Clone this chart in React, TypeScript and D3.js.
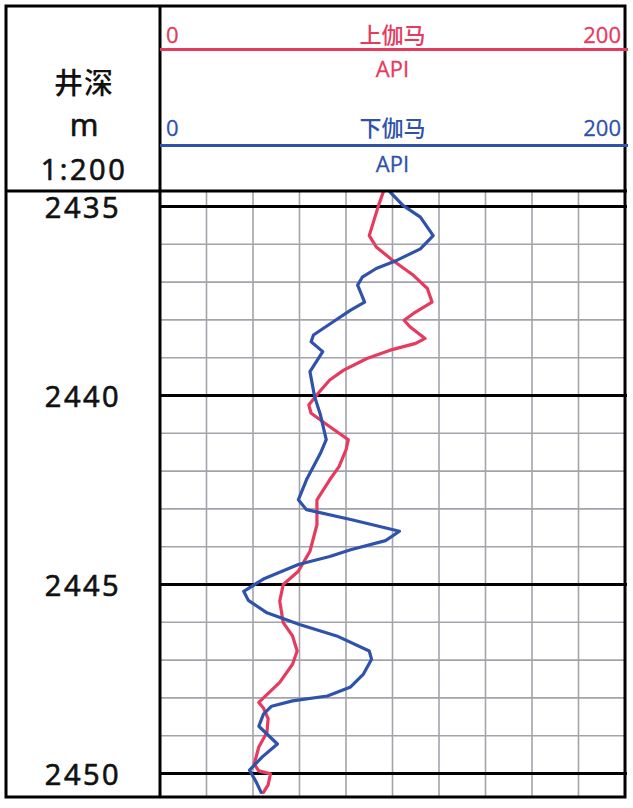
import React, { useEffect, useRef } from 'react';
import * as d3 from 'd3';

// depth scale labels (m)
const depthTicks = [2435, 2440, 2445, 2450];

// 上伽马 (API) by depth
const upperDepth = [
  2434.62, 2434.97, 2435.77, 2436.07, 2436.42, 2436.82, 2437.17, 2437.53, 2437.83, 2438.01,
  2438.18, 2438.49, 2438.62, 2438.8, 2439.02, 2439.33, 2439.59, 2439.94, 2440.25, 2440.47,
  2440.78, 2441.17, 2441.44, 2441.88, 2442.23, 2442.76, 2443.42, 2444.12, 2444.65, 2445.0,
  2445.44, 2446.01, 2446.36, 2446.76, 2447.11, 2447.59, 2448.12, 2448.27, 2448.55, 2448.91,
  2449.3, 2449.75, 2449.93, 2450.01, 2450.3, 2450.5,
];
const upperValue = [
  96, 94, 90, 93, 100, 109, 115, 117, 109, 105,
  107.5, 114, 110, 99, 89, 79, 73, 68, 64, 65,
  72, 81, 80, 77, 73, 67.5, 67.5, 64.5, 59.5, 53,
  51.5, 53, 57, 59, 57, 51.5, 42.5, 44.5, 46.5, 46,
  42.5, 40.5, 42.5, 47.5, 46.5, 44.5,
];

// 下伽马 (API) by depth
const lowerDepth = [
  2434.62, 2434.97, 2435.28, 2435.77, 2436.12, 2436.42, 2436.64, 2436.87, 2437.08, 2437.53,
  2437.74, 2438.05, 2438.4, 2438.58, 2438.84, 2439.37, 2440.03, 2440.51, 2441.17, 2441.53,
  2442.23, 2442.76, 2443.02, 2443.28, 2443.59, 2443.84, 2444.08, 2444.26, 2444.47, 2444.84,
  2445.18, 2445.42, 2445.75, 2446.06, 2446.36, 2446.76, 2446.98, 2447.37, 2447.71, 2447.95,
  2448.08, 2448.22, 2448.43, 2448.75, 2449.22, 2449.56, 2449.91, 2450.24, 2450.5,
];
const lowerValue = [
  99, 104.5, 112, 117.5, 112, 102, 93, 87, 85, 88,
  82, 74.5, 66, 65, 70, 64.5, 66.5, 69, 71.5, 69,
  63, 59.5, 63, 82, 103, 97, 82, 73, 59.5, 45,
  36, 38, 46, 60, 76, 90, 91, 87.5, 82, 72,
  57, 48, 44.5, 42.5, 50.5, 44, 38.5, 41.5, 43.5,
];

const RED = '#e63a5e';
const BLUE = '#2f52aa';
const INK = '#111';
const FONT = '"Open Sans", "Noto Sans CJK SC", sans-serif';
const CJK = '"Noto Sans CJK SC", sans-serif';

const WellLog: React.FC = () => {
  const svgRef = useRef<SVGSVGElement | null>(null);

  useEffect(() => {
    if (!svgRef.current) return;
    const width = 633;
    const height = 808;
    const left = 6;
    const right = 625;
    const top = 6;
    const bottom = 797;
    const divX = 160;
    const headerBottom = 191;

    const svg = d3.select(svgRef.current)
      .attr('width', width)
      .attr('height', height);
    svg.selectAll('*').remove();

    const xScale = d3.scaleLinear().domain([0, 200]).range([divX, right]);
    const yScale = d3.scaleLinear().domain([2435, 2450]).range([206.5, 773.5]);

    svg.append('rect')
      .attr('width', width)
      .attr('height', height)
      .attr('fill', '#fff');

    // grid
    const grid = svg.append('g');
    d3.range(20, 200, 20).forEach(v => {
      grid.append('line')
        .attr('x1', xScale(v)).attr('x2', xScale(v))
        .attr('y1', headerBottom).attr('y2', bottom)
        .attr('stroke', '#a3a3ac').attr('stroke-width', 1.6);
    });
    d3.range(2435, 2451, 1).filter(d => d % 5 !== 0).forEach(d => {
      grid.append('line')
        .attr('x1', divX).attr('x2', right)
        .attr('y1', yScale(d)).attr('y2', yScale(d))
        .attr('stroke', '#a3a3ac').attr('stroke-width', 1.6);
    });
    depthTicks.forEach(d => {
      grid.append('line')
        .attr('x1', divX).attr('x2', right + 2)
        .attr('y1', yScale(d)).attr('y2', yScale(d))
        .attr('stroke', '#000').attr('stroke-width', 3);
    });

    // curves
    const defs = svg.append('defs');
    defs.append('clipPath').attr('id', 'track-clip')
      .append('rect')
      .attr('x', divX).attr('y', headerBottom)
      .attr('width', right - divX).attr('height', bottom - headerBottom);

    const line = d3.line<[number, number]>()
      .x(d => xScale(d[1]))
      .y(d => yScale(d[0]));

    const curves = [
      { depth: upperDepth, value: upperValue, color: RED },
      { depth: lowerDepth, value: lowerValue, color: BLUE },
    ];
    curves.forEach(c => {
      const pts = c.depth.map((d, i) => [d, c.value[i]] as [number, number]);
      svg.append('path')
        .attr('d', line(pts) || '')
        .attr('fill', 'none')
        .attr('stroke', c.color)
        .attr('stroke-width', 3.2)
        .attr('stroke-linejoin', 'round')
        .attr('stroke-linecap', 'round')
        .attr('clip-path', 'url(#track-clip)');
    });

    // frame
    const frame = svg.append('g').attr('stroke', '#000').attr('stroke-width', 3).attr('fill', 'none');
    frame.append('rect')
      .attr('x', left).attr('y', top)
      .attr('width', right - left).attr('height', bottom - top);
    frame.append('line')
      .attr('x1', divX).attr('x2', divX)
      .attr('y1', top).attr('y2', bottom);
    frame.append('line')
      .attr('x1', left).attr('x2', right + 2)
      .attr('y1', headerBottom).attr('y2', headerBottom);

    // header: depth column
    const leftCx = (left + divX) / 2 + 1;
    const leftHead = [
      { text: '井深', y: 94, size: 29, family: CJK, spacing: 1, weight: 500, stroke: 0 },
      { text: 'm', y: 136, size: 31, family: FONT, spacing: 0, weight: 400, stroke: 0.7 },
      { text: '1:200', y: 180, size: 29, family: FONT, spacing: 2.5, weight: 400, stroke: 0.7 },
    ];
    leftHead.forEach(h => {
      svg.append('text')
        .attr('x', leftCx).attr('y', h.y)
        .attr('text-anchor', 'middle')
        .attr('font-family', h.family)
        .attr('font-size', h.size)
        .attr('font-weight', h.weight)
        .attr('letter-spacing', h.spacing)
        .attr('fill', INK)
        .attr('stroke', h.stroke ? INK : 'none')
        .attr('stroke-width', h.stroke)
        .text(h.text);
    });

    // header: curve scales
    const heads = [
      { name: '上伽马', color: RED, labelY: 43, lineY: 49.5, unitY: 77 },
      { name: '下伽马', color: BLUE, labelY: 136, lineY: 145.5, unitY: 172 },
    ];
    const trackCx = (divX + right) / 2;
    heads.forEach(h => {
      const g = svg.append('g')
        .attr('font-family', FONT)
        .attr('font-size', 22)
        .attr('fill', h.color)
        .attr('stroke', h.color)
        .attr('stroke-width', 0.3);
      g.append('text').attr('x', divX + 6).attr('y', h.labelY).text('0');
      g.append('text').attr('x', trackCx).attr('y', h.labelY).attr('text-anchor', 'middle')
        .attr('font-family', CJK).attr('font-weight', 500).attr('stroke', 'none').text(h.name);
      g.append('text').attr('x', right - 4).attr('y', h.labelY).attr('text-anchor', 'end').text('200');
      g.append('text').attr('x', trackCx).attr('y', h.unitY).attr('text-anchor', 'middle').text('API');
      svg.append('line')
        .attr('x1', divX).attr('x2', right + 3)
        .attr('y1', h.lineY).attr('y2', h.lineY)
        .attr('stroke', h.color).attr('stroke-width', 3);
    });

    // depth labels
    depthTicks.forEach(d => {
      svg.append('text')
        .attr('x', leftCx - 1)
        .attr('y', yScale(d) + 11)
        .attr('text-anchor', 'middle')
        .attr('font-family', FONT)
        .attr('font-size', 29)
        .attr('font-weight', 400)
        .attr('letter-spacing', 2.5)
        .attr('fill', INK)
        .attr('stroke', INK)
        .attr('stroke-width', 0.7)
        .text(String(d));
    });
  }, []);

  return <svg ref={svgRef} style={{ position: 'absolute', left: 0, top: 0, display: 'block' }} />;
};

export default function App() {
  return <WellLog />;
}
